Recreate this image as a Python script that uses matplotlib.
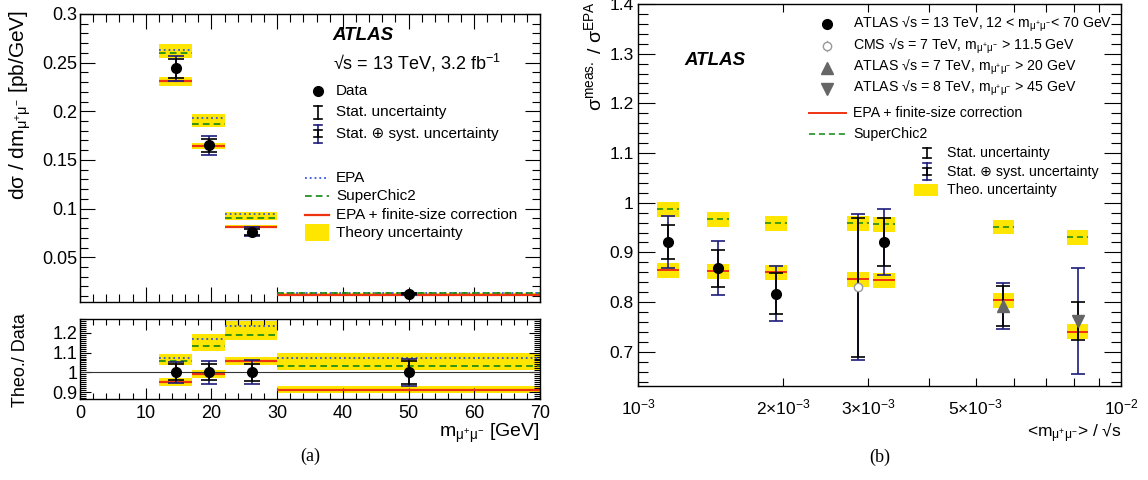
import numpy as np
import matplotlib
matplotlib.use('Agg')
import matplotlib.pyplot as plt
from matplotlib.ticker import MultipleLocator, FuncFormatter, FixedLocator, NullFormatter

plt.rcParams['font.family'] = ['Liberation Sans', 'DejaVu Sans']
plt.rcParams['mathtext.fontset'] = 'custom'
plt.rcParams['mathtext.rm'] = 'Liberation Sans'
plt.rcParams['mathtext.it'] = 'Liberation Sans:italic'
plt.rcParams['mathtext.bf'] = 'Liberation Sans:bold'
plt.rcParams['axes.linewidth'] = 1.0

# ---------------- panel (a): d sigma / d m in m_mumu bins
bin_edges = [12, 17, 22, 30, 70]
data_x = [14.6, 19.6, 26.1, 50.0]
data_y = [0.244, 0.165, 0.0761, 0.0125]
stat_err = [0.0095, 0.0066, 0.0032, 0.0007]
tot_err = [0.0130, 0.0097, 0.0045, 0.0009]
epa = [0.2635, 0.1935, 0.0946, 0.0134]
superchic = [0.2600, 0.1874, 0.0905, 0.0129]
epa_fs = [0.2310, 0.1644, 0.0812, 0.0114]
theo_unc = 0.02   # relative theory uncertainty

# ratio theory / data (lower pad)
ratio_epa = [1.073, 1.170, 1.233, 1.075]
ratio_sc = [1.058, 1.133, 1.187, 1.033]
ratio_fs = [0.950, 0.990, 1.057, 0.912]
ratio_stat = [0.040, 0.040, 0.043, 0.058]
ratio_tot = [0.052, 0.057, 0.060, 0.070]

# ---------------- panel (b): sigma_meas / sigma_EPA vs <m>/sqrt(s)
atlas13_x = [1.154e-3, 1.464e-3, 1.930e-3, 3.231e-3]
atlas13_y = [0.921, 0.868, 0.817, 0.921]
atlas13_stat = [0.034, 0.037, 0.041, 0.049]
atlas13_tot = [0.053, 0.054, 0.055, 0.067]
cms_x = [2.854e-3]
cms_y = [0.830]
cms_stat = [0.140]
cms_tot = [0.147]
atlas7_x = [5.71e-3]
atlas7_y = [0.792]
atlas7_stat = [0.041]
atlas7_tot = [0.047]
atlas8_x = [8.13e-3]
atlas8_y = [0.762]
atlas8_stat = [0.039]
atlas8_tot = [0.107]
theo_x = [1.154e-3, 1.464e-3, 1.930e-3, 2.854e-3, 3.231e-3, 5.71e-3, 8.13e-3]
sc_ratio = [0.987, 0.967, 0.959, 0.959, 0.957, 0.951, 0.930]
fs_ratio = [0.864, 0.862, 0.860, 0.846, 0.844, 0.804, 0.740]
theo_band = 0.015

b_ticks = [1e-3, 2e-3, 3e-3, 5e-3, 1e-2]
b_ticklabels = ['10$^{-3}$', '2×10$^{-3}$', '3×10$^{-3}$', '5×10$^{-3}$', '10$^{-2}$']

YELLOW = '#ffe600'
RED = '#ee3311'
GREEN = '#118811'
BLUE = '#3355dd'
NAVY = '#1c1c7a'
GRAY = '#666666'
mumu = r'$_{\mathrm{\mu^{+}\mu^{-}}}$'

fig = plt.figure(figsize=(11.48, 4.8), dpi=100)
W, H = 1148.0, 480.0


def box(l, t, r, b):
    return [l / W, 1 - b / H, (r - l) / W, (b - t) / H]


def root_ticks(ax, major=10, minor=5):
    ax.tick_params(which='both', direction='in', top=True, right=True, width=0.8)
    ax.tick_params(which='major', length=major)
    ax.tick_params(which='minor', length=minor)


gfmt = FuncFormatter(lambda v, p: '%g' % round(v, 3))

ax_top = fig.add_axes(box(80, 14, 540, 302))
ax_rat = fig.add_axes(box(80, 319, 540, 399))
ax_b = fig.add_axes(box(638, 4, 1121, 386))

lo = np.array(bin_edges[:-1], dtype=float)
hi = np.array(bin_edges[1:], dtype=float)
models = [(epa, ratio_epa, ':', BLUE, 1.3),
          (superchic, ratio_sc, (0, (4, 2.5)), GREEN, 1.2),
          (epa_fs, ratio_fs, '-', RED, 1.6)]

# theory bands then lines
for vals, rvals, ls, col, lw in models:
    v = np.array(vals)
    r = np.array(rvals)
    ax_top.bar(lo, 2 * theo_unc * v, width=hi - lo, bottom=v * (1 - theo_unc),
               align='edge', color=YELLOW, lw=0, zorder=1)
    ax_rat.bar(lo, 2 * theo_unc * r, width=hi - lo, bottom=r * (1 - theo_unc),
               align='edge', color=YELLOW, lw=0, zorder=1)
for vals, rvals, ls, col, lw in models:
    ax_top.hlines(vals, lo, hi, colors=col, linestyles=ls, lw=lw, zorder=2)
    ax_rat.hlines(rvals, lo, hi, colors=col, linestyles=ls, lw=lw, zorder=2)

ax_top.errorbar(data_x, data_y, yerr=tot_err, fmt='none', ecolor=NAVY,
                elinewidth=1.2, capsize=5.5, capthick=1.2, zorder=3)
ax_top.errorbar(data_x, data_y, yerr=stat_err, fmt='none', ecolor='black',
                elinewidth=1.2, capsize=5.5, capthick=1.2, zorder=4)
ax_top.plot(data_x, data_y, 'o', color='black', ms=7, zorder=5)

ones = np.ones(len(data_x))
ax_rat.axhline(1.0, color='#333333', lw=0.8, zorder=2)
ax_rat.errorbar(data_x, ones, yerr=ratio_tot, fmt='none', ecolor=NAVY,
                elinewidth=1.2, capsize=5.5, capthick=1.2, zorder=3)
ax_rat.errorbar(data_x, ones, yerr=ratio_stat, fmt='none', ecolor='black',
                elinewidth=1.2, capsize=5.5, capthick=1.2, zorder=4)
ax_rat.plot(data_x, ones, 'o', color='black', ms=7, zorder=5)

ax_top.set_xlim(0, 70)
ax_top.set_ylim(0.004, 0.3)
ax_top.xaxis.set_major_locator(MultipleLocator(10))
ax_top.xaxis.set_minor_locator(MultipleLocator(2))
ax_top.xaxis.set_major_formatter(NullFormatter())
ax_top.yaxis.set_major_locator(MultipleLocator(0.05))
ax_top.yaxis.set_minor_locator(MultipleLocator(0.01))
ax_top.yaxis.set_major_formatter(gfmt)
root_ticks(ax_top, 11, 6)
ax_top.tick_params(axis='y', labelsize=13, pad=2)

ax_rat.set_xlim(0, 70)
ax_rat.set_ylim(0.865, 1.27)
ax_rat.xaxis.set_major_locator(MultipleLocator(10))
ax_rat.xaxis.set_minor_locator(MultipleLocator(2))
ax_rat.yaxis.set_major_locator(MultipleLocator(0.1))
ax_rat.yaxis.set_minor_locator(MultipleLocator(0.01))
ax_rat.yaxis.set_major_formatter(gfmt)
root_ticks(ax_rat, 8, 4)
ax_rat.tick_params(axis='y', labelsize=13, pad=2)
ax_rat.tick_params(axis='x', labelsize=13, pad=4)

# panel (b)
tx = np.array(theo_x)
bl = tx / 1.052
bh = tx * 1.052
for vals in (sc_ratio, fs_ratio):
    ax_b.bar(bl, 2 * theo_band, width=bh - bl, bottom=np.array(vals) - theo_band,
             align='edge', color=YELLOW, lw=0, zorder=1)
ax_b.hlines(sc_ratio, bl, bh, colors=GREEN, linestyles=(0, (4, 2.5)), lw=1.1, zorder=2)
ax_b.hlines(fs_ratio, bl, bh, colors=RED, lw=1.4, zorder=2)

series = [(atlas13_x, atlas13_y, atlas13_stat, atlas13_tot, 'o', 'black', 'black', 7),
          (cms_x, cms_y, cms_stat, cms_tot, 'o', 'white', '#999999', 6),
          (atlas7_x, atlas7_y, atlas7_stat, atlas7_tot, '^', GRAY, GRAY, 8),
          (atlas8_x, atlas8_y, atlas8_stat, atlas8_tot, 'v', GRAY, GRAY, 8)]
for x, y, st, tt, mk, fc, ec, ms in series:
    ax_b.errorbar(x, y, yerr=tt, fmt='none', ecolor=NAVY, elinewidth=1.2,
                  capsize=5, capthick=1.2, zorder=3)
    ax_b.errorbar(x, y, yerr=st, fmt='none', ecolor='black', elinewidth=1.2,
                  capsize=5, capthick=1.2, zorder=4)
    ax_b.plot(x, y, mk, mfc=fc, mec=ec, ms=ms, zorder=5)

ax_b.set_xscale('log')
ax_b.set_xlim(1e-3, 1e-2)
ax_b.set_ylim(0.631, 1.4)
ax_b.xaxis.set_major_locator(FixedLocator(b_ticks))
ax_b.xaxis.set_minor_locator(FixedLocator([4e-3, 6e-3, 7e-3, 8e-3, 9e-3]))
ax_b.set_xticklabels(b_ticklabels)
ax_b.xaxis.set_minor_formatter(NullFormatter())
ax_b.yaxis.set_major_locator(MultipleLocator(0.1))
ax_b.yaxis.set_minor_locator(MultipleLocator(0.02))
ax_b.yaxis.set_major_formatter(gfmt)
root_ticks(ax_b, 12, 7)
ax_b.tick_params(axis='x', which='both', length=6)
ax_b.tick_params(axis='x', labelsize=12.5, pad=8)
ax_b.tick_params(axis='y', labelsize=12.5, pad=3)


# ---------------- legends drawn by hand (ROOT style)
def ltext(ax, x, y, s, size):
    ax.text(x, y, s, transform=ax.transAxes, fontsize=size, ha='left', va='center')


def lerr(ax, x, y, d_in, d_out, c):
    t = ax.transAxes
    if d_out:
        ax.plot([x, x], [y - d_out, y + d_out], color=NAVY, lw=1.2, transform=t)
        for s in (-1, 1):
            ax.plot([x - c, x + c], [y + s * d_out] * 2, color=NAVY, lw=1.2, transform=t)
    ax.plot([x, x], [y - d_in, y + d_in], color='black', lw=1.2, transform=t)
    for s in (-1, 1):
        ax.plot([x - c, x + c], [y + s * d_in] * 2, color='black', lw=1.2, transform=t)


ta = ax_top.transAxes
ax_top.text(0.549, 0.924, 'ATLAS', transform=ta, fontsize=13.5, weight='bold',
            style='italic', va='center')
ax_top.text(0.549, 0.831, '√s = 13 TeV, 3.2 fb$^{-1}$', transform=ta,
            fontsize=13, va='center')
ax_top.plot([0.517], [0.733], 'o', color='black', ms=7, transform=ta)
ltext(ax_top, 0.557, 0.733, 'Data', 11)
lerr(ax_top, 0.517, 0.659, 0.022, 0, 0.008)
ltext(ax_top, 0.557, 0.659, 'Stat. uncertainty', 11)
lerr(ax_top, 0.517, 0.584, 0.012, 0.031, 0.008)
ltext(ax_top, 0.557, 0.584, 'Stat. ⊕ syst. uncertainty', 11)
for y, ls, col, lw, s in [(0.430, ':', BLUE, 1.3, 'EPA'),
                          (0.369, (0, (4, 2.5)), GREEN, 1.2, 'SuperChic2'),
                          (0.302, '-', RED, 1.6, 'EPA + finite-size correction')]:
    ax_top.plot([0.489, 0.541], [y, y], ls=ls, color=col, lw=lw, transform=ta)
    ltext(ax_top, 0.557, y, s, 11)
ax_top.add_patch(plt.Rectangle((0.489, 0.241 - 0.03), 0.052, 0.06, color=YELLOW,
                               transform=ta, lw=0))
ltext(ax_top, 0.557, 0.241, 'Theory uncertainty', 11)

tb = ax_b.transAxes
ax_b.text(0.097, 0.851, 'ATLAS', transform=tb, fontsize=13.5, weight='bold',
          style='italic', va='center')
ax_b.plot([0.392], [0.947], 'o', color='black', ms=7, transform=tb)
ax_b.plot([0.392, 0.392], [0.890 - 0.013, 0.890 + 0.013], color='#aaaaaa', lw=1, transform=tb)
ax_b.plot([0.392], [0.890], 'o', mfc='white', mec='#999999', ms=6, transform=tb)
ax_b.plot([0.392], [0.833], '^', color=GRAY, ms=8, transform=tb)
ax_b.plot([0.392], [0.778], 'v', color=GRAY, ms=8, transform=tb)
ltext(ax_b, 0.4457, 0.947, 'ATLAS √s = 13 TeV, 12 < m' + mumu + '< 70 GeV', 10.2)
ltext(ax_b, 0.4457, 0.890, 'CMS √s = 7 TeV, m' + mumu + ' > 11.5 GeV', 10.2)
ltext(ax_b, 0.4457, 0.833, 'ATLAS √s = 7 TeV, m' + mumu + ' > 20 GeV', 10.2)
ltext(ax_b, 0.4457, 0.778, 'ATLAS √s = 8 TeV, m' + mumu + ' > 45 GeV', 10.2)
ax_b.plot([0.354, 0.431], [0.714, 0.714], color=RED, lw=1.4, transform=tb)
ltext(ax_b, 0.4457, 0.714, 'EPA + finite-size correction', 10.2)
ax_b.plot([0.354, 0.431], [0.659, 0.659], color=GREEN, ls=(0, (4, 2.5)), lw=1.1, transform=tb)
ltext(ax_b, 0.4457, 0.659, 'SuperChic2', 10.2)
lerr(ax_b, 0.599, 0.610, 0.0127, 0, 0.008)
ltext(ax_b, 0.640, 0.610, 'Stat. uncertainty', 10.2)
lerr(ax_b, 0.599, 0.561, 0.009, 0.0216, 0.008)
ltext(ax_b, 0.640, 0.561, 'Stat. ⊕ syst. uncertainty', 10.2)
ax_b.add_patch(plt.Rectangle((0.571, 0.513 - 0.016), 0.051, 0.032, color=YELLOW,
                             transform=tb, lw=0))
ltext(ax_b, 0.640, 0.513, 'Theo. uncertainty', 10.2)

# ---------------- axis titles and captions
fig.text(20 / W, 1 - 10 / H, 'dσ / dm' + mumu + ' [pb/GeV]', rotation=90,
         ha='center', va='top', fontsize=15)
fig.text(21 / W, 1 - 360 / H, 'Theo./ Data', rotation=90, ha='center',
         va='center', fontsize=13)
fig.text(540 / W, 1 - 433 / H, 'm' + mumu + ' [GeV]', ha='right', va='center',
         fontsize=14)
fig.text(594 / W, 1 - 1 / H, 'σ$^{\\mathrm{meas.}}$ / σ$^{\\mathrm{EPA}}$', rotation=90,
         ha='center', va='top', fontsize=14)
fig.text(1121 / W, 1 - 433 / H, '<m' + mumu + '> / √s', ha='right', va='center',
         fontsize=12.5)
fig.text(310 / W, 1 - 456 / H, '(a)', family='Liberation Serif', ha='center',
         va='center', fontsize=13)
fig.text(880 / W, 1 - 457 / H, '(b)', family='Liberation Serif', ha='center',
         va='center', fontsize=13)

plt.savefig('out.png', dpi=100)
